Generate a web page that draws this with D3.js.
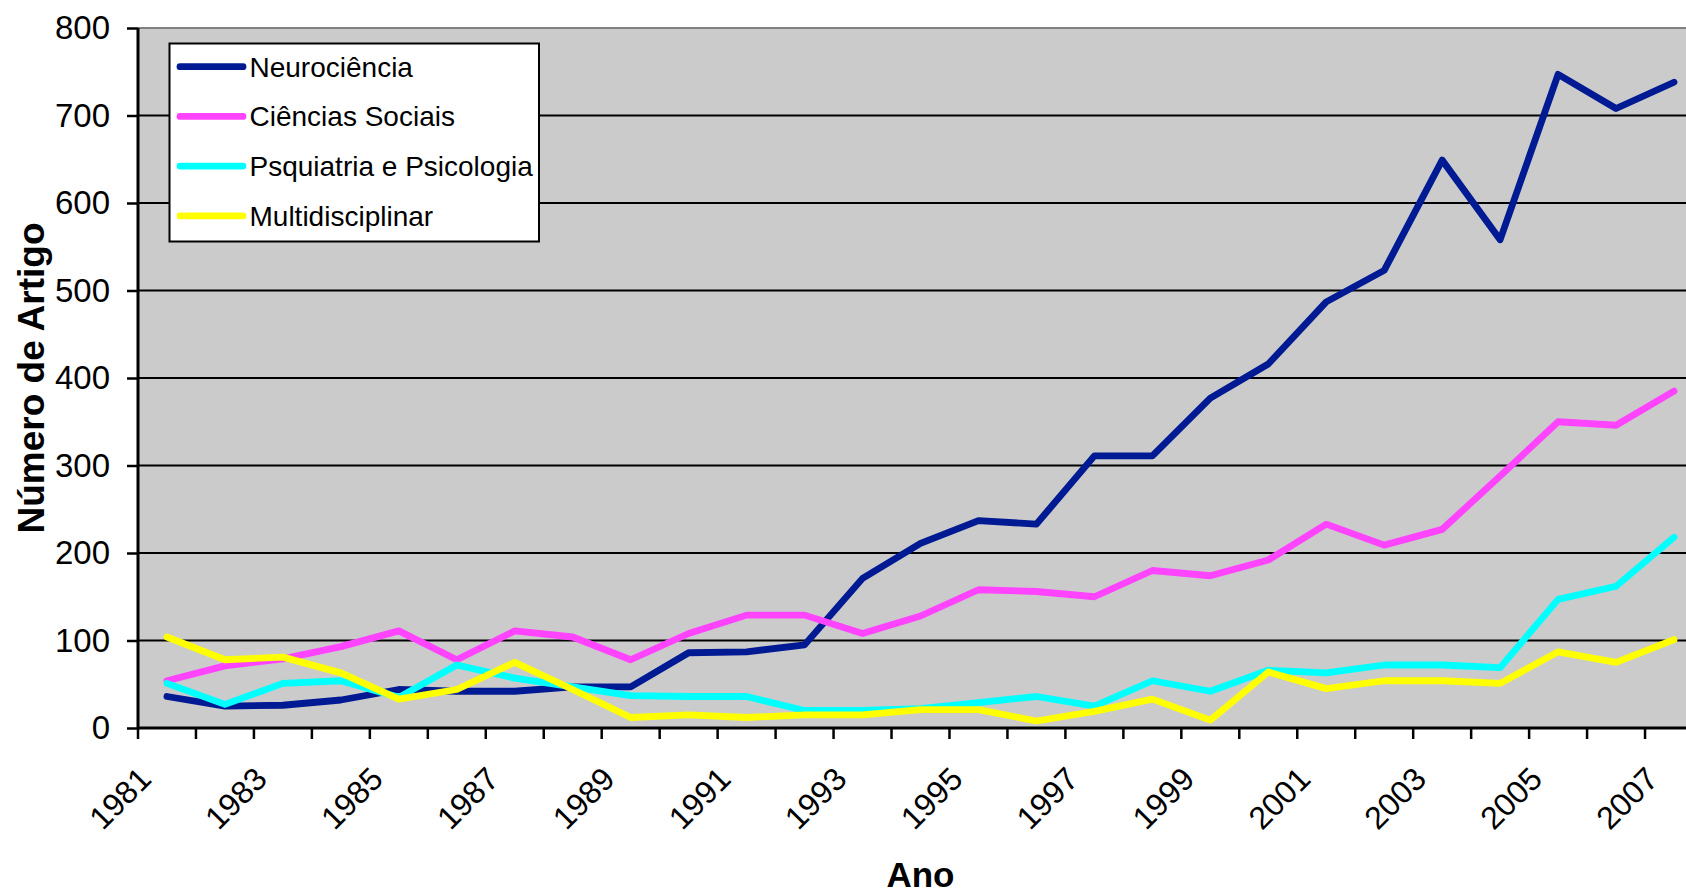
<!DOCTYPE html>
<html>
<head>
<meta charset="utf-8">
<script src="https://cdn.jsdelivr.net/npm/d3@7"></script>
<style>
  html, body { margin: 0; padding: 0; background: #ffffff; }
  svg { display: block; }
  text { font-family: "Liberation Sans", Arial, sans-serif; fill: #000; }
</style>
</head>
<body>
<svg id="chart" width="1686" height="894"></svg>
<script>
// ---- Data ----
const years = [1981,1982,1983,1984,1985,1986,1987,1988,1989,1990,1991,1992,1993,1994,1995,1996,1997,1998,1999,2000,2001,2002,2003,2004,2005,2006,2007];
const seriesNames = ["Neurociência", "Ciências Sociais", "Psquiatria e Psicologia", "Multidisciplinar"];
const neurociencia = [36,25,26,32,44,42,42,47,47,86,87,95,171,211,237,233,311,311,377,416,487,523,649,558,747,708,738];
const cienciasSociais = [54,71,79,93,111,78,111,104,78,108,129,129,108,128,158,156,150,180,174,192,233,209,227,288,350,346,385];
const psiquiatria = [51,27,51,54,35,72,57,47,37,36,36,20,20,22,29,36,25,54,42,66,63,72,72,69,147,162,218];
const multidisciplinar = [104,78,81,63,33,44,75,44,12,15,12,15,15,21,21,8,19,33,9,64,45,54,54,51,87,75,101];
const yTicks = [0,100,200,300,400,500,600,700,800];
const xLabelYears = [1981,1983,1985,1987,1989,1991,1993,1995,1997,1999,2001,2003,2005,2007];
const colors = ["#001A94", "#FF44FF", "#00FFFF", "#FFFF00"];

const allSeries = [neurociencia, cienciasSociais, psiquiatria, multidisciplinar];

// ---- Layout ----
const svg = d3.select("#chart");
const plotLeft = 138, plotRight = 1703, plotTop = 28, plotBottom = 728;

const x = d3.scaleBand().domain(years).range([plotLeft, plotRight]).paddingInner(0).paddingOuter(0);
const y = d3.scaleLinear().domain([0, 800]).range([plotBottom, plotTop]);
const step = x.step();
const cx = yr => x(yr) + step / 2;

// plot area background
svg.append("rect")
  .attr("x", plotLeft).attr("y", plotTop)
  .attr("width", plotRight - plotLeft).attr("height", plotBottom - plotTop)
  .attr("fill", "#CBCBCB");

// gridlines
svg.append("g").selectAll("line")
  .data(yTicks.filter(v => v > 0 && v < 800))
  .join("line")
  .attr("x1", plotLeft).attr("x2", plotRight)
  .attr("y1", d => y(d)).attr("y2", d => y(d))
  .attr("stroke", "#000").attr("stroke-width", 2);

// top border
svg.append("line")
  .attr("x1", plotLeft).attr("x2", plotRight)
  .attr("y1", y(800)).attr("y2", y(800))
  .attr("stroke", "#808080").attr("stroke-width", 2);

// y axis
const yAxis = svg.append("g")
  .attr("transform", `translate(${plotLeft},0)`)
  .call(d3.axisLeft(y).tickValues(yTicks).tickSize(11).tickSizeOuter(0).tickPadding(17).tickFormat(d3.format("d")));
yAxis.select(".domain").remove();
yAxis.selectAll(".tick line").attr("stroke", "#000").attr("stroke-width", 2.5);
yAxis.selectAll(".tick text")
  .style("font-family", '"Liberation Sans", Arial, sans-serif')
  .style("font-size", "33px").attr("fill", "#000");

// x ticks at band boundaries
const boundaries = years.map(yr => x(yr)).concat([x(years[years.length - 1]) + step]);
svg.append("g").selectAll("line")
  .data(boundaries)
  .join("line")
  .attr("x1", d => d).attr("x2", d => d)
  .attr("y1", plotBottom).attr("y2", plotBottom + 11)
  .attr("stroke", "#000").attr("stroke-width", 2.5);

// x labels
svg.append("g").selectAll("text")
  .data(xLabelYears)
  .join("text")
  .attr("transform", d => `translate(${cx(d) - 14},781) rotate(-45)`)
  .attr("text-anchor", "end")
  .style("font-size", "32px")
  .text(d => d);

// series lines
const line = d3.line().x((d, i) => cx(years[i])).y(d => y(d));
svg.append("g").selectAll("path")
  .data(allSeries)
  .join("path")
  .attr("d", d => line(d))
  .attr("fill", "none")
  .attr("stroke", (d, i) => colors[i])
  .attr("stroke-width", 6.8)
  .attr("stroke-linejoin", "round")
  .attr("stroke-linecap", "round");

// axis lines
svg.append("line")
  .attr("x1", plotLeft).attr("x2", plotLeft)
  .attr("y1", plotTop).attr("y2", plotBottom + 1.5)
  .attr("stroke", "#000").attr("stroke-width", 3);
svg.append("line")
  .attr("x1", plotLeft).attr("x2", plotRight)
  .attr("y1", plotBottom).attr("y2", plotBottom)
  .attr("stroke", "#000").attr("stroke-width", 3);

// legend
const legend = svg.append("g");
legend.append("rect")
  .attr("x", 169.5).attr("y", 43.5).attr("width", 369.5).attr("height", 198)
  .attr("fill", "#fff").attr("stroke", "#000").attr("stroke-width", 2);
const items = legend.selectAll("g.item")
  .data(seriesNames)
  .join("g").attr("class", "item")
  .attr("transform", (d, i) => `translate(0,${66.7 + i * 49.7})`);
items.append("line")
  .attr("x1", 180).attr("x2", 243).attr("y1", 0).attr("y2", 0)
  .attr("stroke", (d, i) => colors[i]).attr("stroke-width", 6.8)
  .attr("stroke-linecap", "round");
items.append("text")
  .attr("x", 249.5).attr("y", 0).attr("dy", "0.36em")
  .style("font-size", "28px")
  .text(d => d);

// axis titles
svg.append("text")
  .attr("x", (plotLeft + plotRight) / 2).attr("y", 887)
  .attr("text-anchor", "middle")
  .style("font-size", "35px").style("font-weight", "bold")
  .text("Ano");
svg.append("text")
  .attr("transform", `translate(44,${(plotTop + plotBottom) / 2}) rotate(-90)`)
  .attr("text-anchor", "middle")
  .style("font-size", "37px").style("font-weight", "bold")
  .text("Número de Artigo");
</script>
</body>
</html>
